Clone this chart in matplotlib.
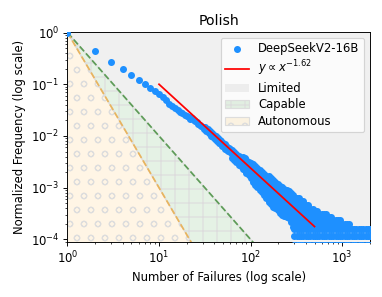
import numpy as np
import matplotlib
matplotlib.use("Agg")
import matplotlib.pyplot as plt

# ---------------- data ----------------
HEAD_X = list(range(1, 61))
HEAD_Y = [1.0, 0.44, 0.265, 0.195, 0.15, 0.12, 0.101, 0.086, 0.073, 0.064,
          0.057, 0.050, 0.042, 0.038, 0.035, 0.0323, 0.0296, 0.0280, 0.0258, 0.0245,
          0.0231, 0.0215, 0.0218, 0.0206, 0.0195, 0.0185, 0.0174, 0.0166, 0.0157, 0.0148,
          0.0136, 0.0152, 0.0123, 0.0138, 0.0112, 0.0126, 0.0102, 0.0115, 0.0094, 0.0106,
          0.0086, 0.0098, 0.0080, 0.0091, 0.0074, 0.0084, 0.0069, 0.0079, 0.0065, 0.0074,
          0.0061, 0.0069, 0.0057, 0.0065, 0.0054, 0.0061, 0.0051, 0.0058, 0.0048, 0.0055]

BAND_X = [62, 66, 70, 74, 78, 82, 86, 90, 95, 100, 106, 112, 119, 126, 133, 141,
          149, 158, 167, 177, 187, 198, 210, 222, 235, 249, 263, 278, 294]
BAND_Y = [
    [3.75e-3, 4.5e-3, 5.45e-3],
    [3.4e-3, 4.1e-3, 4.95e-3],
    [3.1e-3, 3.7e-3, 4.5e-3],
    [2.8e-3, 3.4e-3, 4.1e-3],
    [2.6e-3, 3.1e-3, 3.75e-3],
    [2.3e-3, 2.85e-3, 3.45e-3, 3.95e-3],
    [2.15e-3, 2.65e-3, 3.2e-3, 3.7e-3],
    [1.95e-3, 2.45e-3, 3.0e-3, 3.45e-3],
    [1.75e-3, 2.2e-3, 2.75e-3, 3.2e-3],
    [1.55e-3, 2.0e-3, 2.5e-3, 3.0e-3],
    [1.3e-3, 1.7e-3, 2.2e-3, 2.9e-3],
    [1.15e-3, 1.55e-3, 2.0e-3, 2.65e-3],
    [1.03e-3, 1.4e-3, 1.8e-3, 2.4e-3],
    [9.2e-4, 1.25e-3, 1.65e-3, 2.2e-3],
    [8.2e-4, 1.12e-3, 1.5e-3, 2.0e-3],
    [7.2e-4, 1.0e-3, 1.35e-3, 1.85e-3],
    [6.4e-4, 9.0e-4, 1.22e-3, 1.7e-3],
    [5.4e-4, 7.5e-4, 1.0e-3, 1.3e-3, 1.7e-3],
    [4.8e-4, 6.7e-4, 9.0e-4, 1.2e-3, 1.55e-3],
    [4.3e-4, 6.0e-4, 8.2e-4, 1.1e-3, 1.4e-3],
    [4.0e-4, 5.5e-4, 7.5e-4, 1.0e-3, 1.3e-3],
    [3.7e-4, 5.0e-4, 6.8e-4, 9.2e-4, 1.2e-3],
    [3.3e-4, 4.6e-4, 6.3e-4, 8.5e-4, 1.1e-3],
    [3.0e-4, 4.2e-4, 5.8e-4, 8.0e-4, 1.02e-3],
    [2.8e-4, 3.8e-4, 5.3e-4, 7.3e-4, 9.5e-4],
    [2.7e-4, 3.6e-4, 4.9e-4, 6.8e-4, 9.0e-4],
    [2.6e-4, 3.5e-4, 4.7e-4, 6.3e-4, 8.5e-4],
    [2.2e-4, 3.0e-4, 4.2e-4, 5.8e-4, 8.0e-4],
    [1.7e-4, 2.4e-4, 3.6e-4, 5.2e-4, 7.2e-4],
]

TAIL_X = [300, 318, 337, 357, 378, 400, 424, 449, 476, 504, 534, 566, 600, 636,
          674, 714, 757, 802, 850, 900, 954, 1011, 1071, 1135, 1203, 1275, 1351,
          1432, 1517, 1608, 1704, 1806, 1914, 2028]
TAIL_LEVELS = [7.8e-5, 1.17e-4, 1.56e-4, 1.95e-4, 2.34e-4, 2.73e-4, 3.13e-4,
               3.5e-4, 3.9e-4, 4.7e-4, 5.5e-4, 6.2e-4]
TAIL_LEVEL_XMAX = [2028, 2028, 2028, 1250, 1000, 800, 680, 560, 490, 440, 380, 340]

FIT_RANGE = [10, 500]
FIT_AMP = 4.17
FIT_EXP = 1.62

REGION_EXPONENTS = [2, 3]
XLIM = (1, 2020)
YLIM = (8.9e-5, 1.04)

# ---------------- assemble scatter ----------------
sx, sy = list(HEAD_X), list(HEAD_Y)
for x, ys in zip(BAND_X, BAND_Y):
    for y in ys:
        sx.append(x); sy.append(y)
for lev, xmax in zip(TAIL_LEVELS, TAIL_LEVEL_XMAX):
    for x in TAIL_X:
        if x <= xmax:
            sx.append(x); sy.append(lev)

DPI = 84
fig = plt.figure(figsize=(382 / DPI, 297 / DPI), dpi=DPI)
ax = fig.add_axes([0.1767, 0.1852, 0.7919, 0.7081])
ax.set_xscale('log'); ax.set_yscale('log')

xx = np.logspace(0, np.log10(XLIM[1]) + 0.05, 400)
e_cap, e_aut = REGION_EXPONENTS
y_cap = xx ** (-e_cap)
y_aut = xx ** (-e_aut)
ytop = 10.0
ybot = 1e-6

ax.fill_between(xx, y_cap, ytop, facecolor=(0.83, 0.83, 0.83, 0.35),
                edgecolor='none', label='Limited', zorder=1)
ax.fill_between(xx, y_aut, y_cap, facecolor=(0.0, 0.5, 0.0, 0.1),
                edgecolor='#dddddd', hatch='+', linewidth=1.0, label='Capable', zorder=1)
ax.fill_between(xx, ybot, y_aut, facecolor=(1.0, 0.65, 0.0, 0.1),
                edgecolor='#dddddd', hatch='o', linewidth=1.0, label='Autonomous', zorder=1)
ax.plot(xx, y_cap, '--', color='#5e9c58', lw=1.5, zorder=2)
ax.plot(xx, y_aut, '--', color='#e9b45e', lw=1.5, zorder=2)

ax.scatter(sx, sy, s=36, color='#1e90ff', label='DeepSeekV2-16B', zorder=3,
           linewidths=0)
fx = np.array(FIT_RANGE, dtype=float)
fit_label = r'$y \propto x^{-%.2f}$' % FIT_EXP
ax.plot(fx, FIT_AMP * fx ** (-FIT_EXP), color='red', lw=1.5, zorder=4, label=fit_label)

ax.set_xlim(*XLIM)
ax.set_ylim(*YLIM)
ax.set_title('Polish', fontsize=12)
ax.set_xlabel('Number of Failures (log scale)', fontsize=10)
ax.set_ylabel('Normalized Frequency (log scale)', fontsize=10)
ax.tick_params(labelsize=10)

h, l = ax.get_legend_handles_labels()
order = [l.index('DeepSeekV2-16B'), l.index(fit_label),
         l.index('Limited'), l.index('Capable'), l.index('Autonomous')]
ax.legend([h[i] for i in order], [l[i] for i in order], loc='upper right',
          fontsize=10, labelspacing=0.3)

fig.savefig('out.png', dpi=DPI)
